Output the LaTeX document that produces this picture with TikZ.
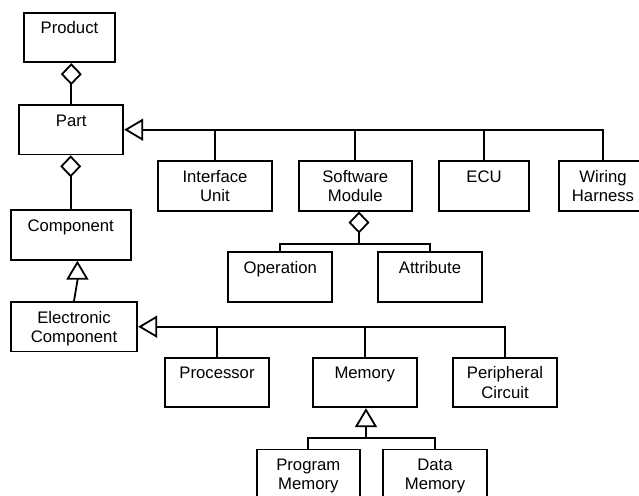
\documentclass[tikz,border=0pt]{standalone}
\usepackage{fontspec}
\setmainfont{Liberation Sans}
\usetikzlibrary{arrows.meta,calc}
% two text lines per class box, the first one sitting near the top edge
\newcommand\classtext[2]{\rule{0pt}{16pt}#1\\\rule[-4pt]{0pt}{4pt}#2}
\begin{document}
\begin{tikzpicture}[x=1pt,y=-1pt,
  line width=1.8pt, line join=miter,
  cls/.style={draw, rectangle, inner sep=0pt, align=center,
    font=\fontsize{16.7}{19.3}\selectfont, minimum height=49.5pt},
  agg/.style={-{Diamond[open,length=22pt,width=21pt]}},
  gen/.style={-{Triangle[open,length=19pt,width=22pt]}},
]
\clip (0,0) rectangle (639,495);
\fill[white] (0,0) rectangle (639,495);

% classes
\node[cls, minimum width=91pt]    (product) at (69.5,37.5)  {\classtext{Product}{}};
\node[cls, minimum width=104pt]   (part)    at (71.3,129.7) {\classtext{Part}{}};
\node[cls, minimum width=120pt]   (comp)    at (70.7,235)   {\classtext{Component}{}};
\node[cls, minimum width=126.6pt] (ecomp)   at (74,326.7)   {\classtext{Electronic}{Component}};

\node[cls, minimum width=113.4pt] (iu)  at (215,185.9)   {\classtext{Interface}{Unit}};
\node[cls, minimum width=112.7pt] (sm)  at (355.3,185.9) {\classtext{Software}{Module}};
\node[cls, minimum width=90pt]    (ecu) at (484,185.9)   {\classtext{ECU}{}};
\node[cls, minimum width=88pt]    (wh)  at (603,185.9)   {\classtext{Wiring}{Harness}};

\node[cls, minimum width=104pt]   (op)  at (280.3,277) {\classtext{Operation}{}};
\node[cls, minimum width=103.4pt] (at)  at (430,277)   {\classtext{Attribute}{}};

\node[cls, minimum width=103.4pt] (proc) at (217,382.5)   {\classtext{Processor}{}};
\node[cls, minimum width=104pt]   (mem)  at (364.7,382.5) {\classtext{Memory}{}};
\node[cls, minimum width=103.4pt] (per)  at (505,382.5)   {\classtext{Peripheral}{Circuit}};

\node[cls, minimum width=103.3pt] (pm) at (308.3,474.3) {\classtext{Program}{Memory}};
\node[cls, minimum width=103.4pt] (dm) at (435,474.3)   {\classtext{Data}{Memory}};

% aggregations
\draw[agg] (part.north) -- (part.north |- product.south);
\draw[agg] (comp.north) -- (comp.north |- part.south);

\coordinate (smd) at ($(sm.south)+(3.7,0)$);
\coordinate (smj) at ($(smd)+(0,32.3)$);
\draw[agg] (op.north) |- (smj) -- (smd);
\draw (at.north) |- (smj);

% generalizations
\coordinate (ctip)  at ($(comp.south)+(6.7,0)$);
\coordinate (cbase) at ($(ctip)+(0,20)$);
\draw[gen] (ecomp.north) -- (cbase) -- (ctip);

\draw[gen] (wh.north) |- (part.east);
\foreach \n in {iu,sm,ecu} \draw (\n.north) -- (\n.north |- part.east);

\draw[gen] (per.north) |- (ecomp.east);
\foreach \n in {proc,mem} \draw (\n.north) -- (\n.north |- ecomp.east);

\coordinate (mtip) at ($(mem.south)+(1.3,0)$);
\coordinate (mj)   at ($(mtip)+(0,30)$);
\draw[gen] (pm.north) |- (mj) -- (mtip);
\draw (dm.north) |- (mj);
\end{tikzpicture}
\end{document}
